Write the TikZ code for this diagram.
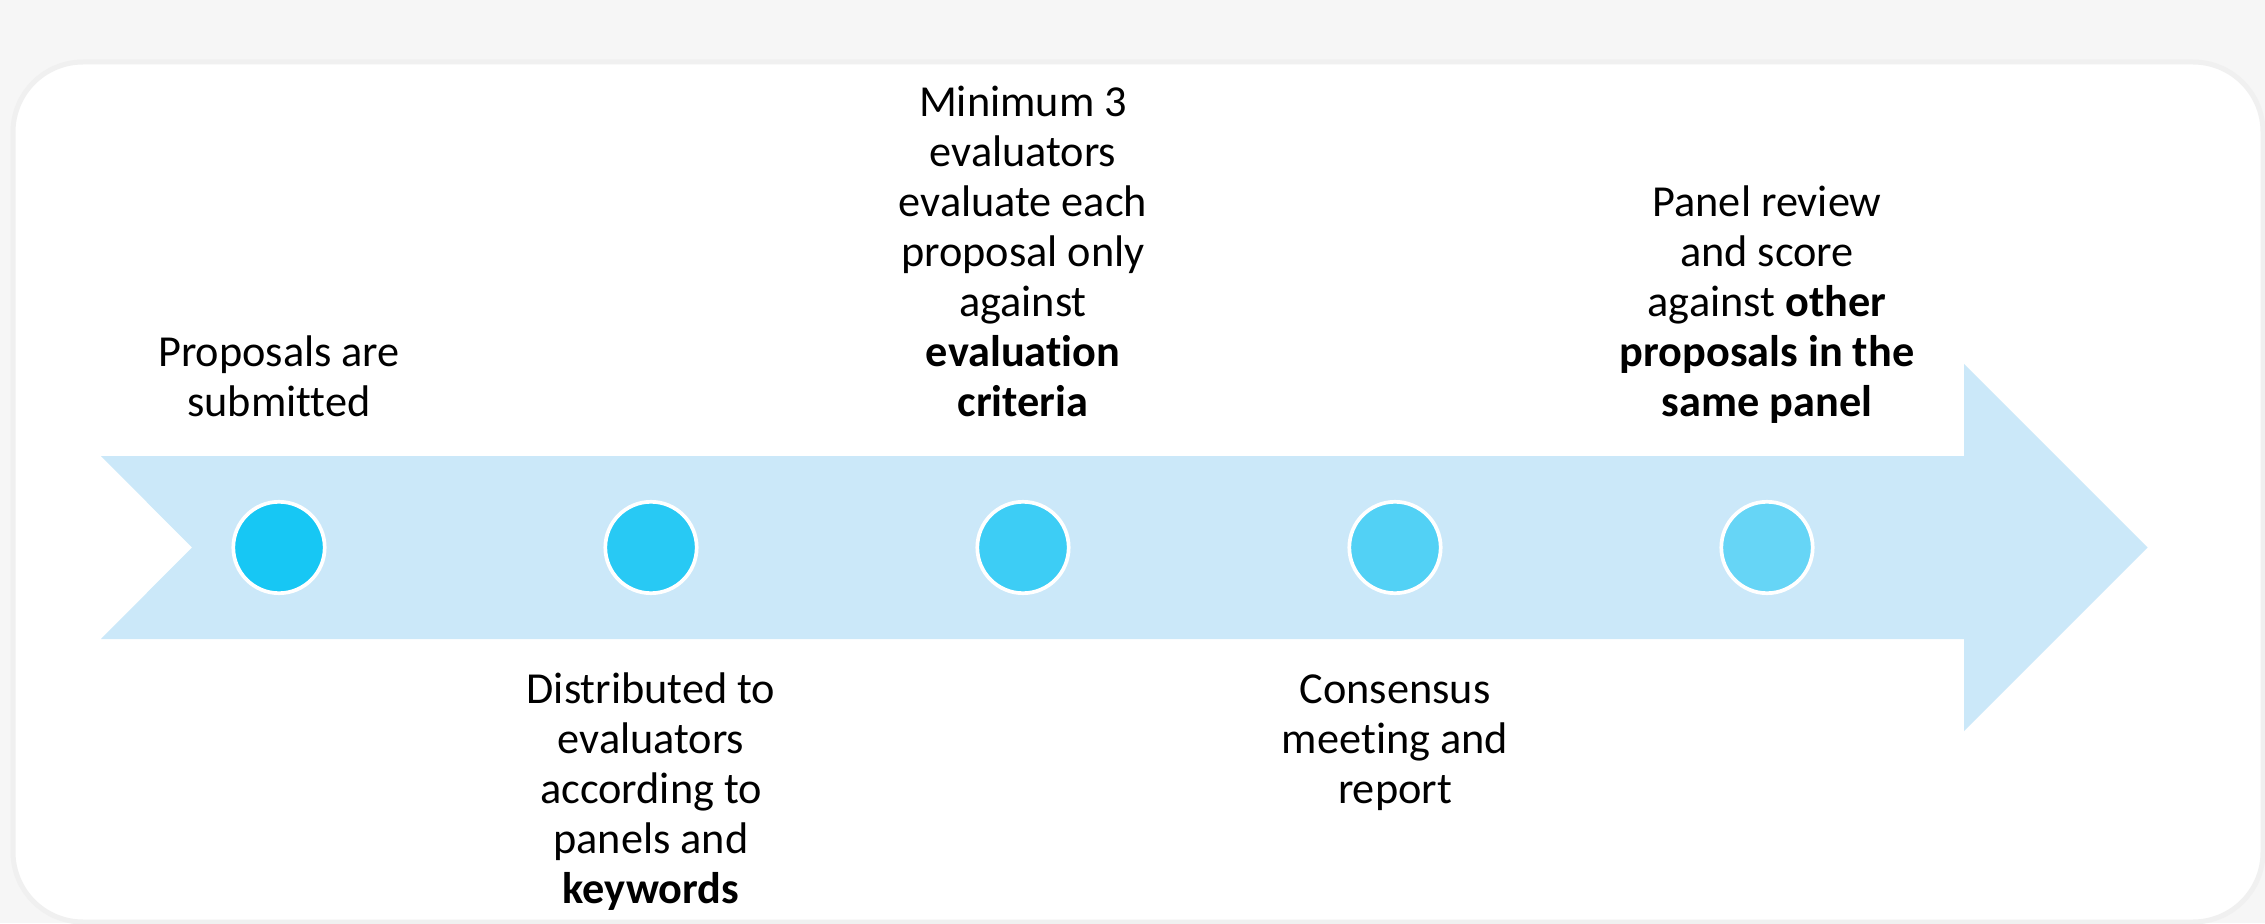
\documentclass[tikz,border=0pt]{standalone}
\usepackage{fontspec}
\setmainfont[RawFeature={-liga;-calt;-clig;-dlig}]{Carlito}
\usetikzlibrary{positioning}
\definecolor{bggray}{HTML}{F6F6F6}
\definecolor{arrowblue}{HTML}{CBE8F9}
\definecolor{dotA}{HTML}{17C7F4}
\definecolor{dotB}{HTML}{28C9F4}
\definecolor{dotC}{HTML}{3DCDF5}
\definecolor{dotD}{HTML}{52D1F5}
\definecolor{dotE}{HTML}{66D5F6}
\begin{document}
\begin{tikzpicture}[font=\fontsize{12.6}{14.2}\selectfont, line join=round, line cap=round,
	dot/.style={circle, draw=white, line width=0.037cm, minimum size=0.914cm, inner sep=0pt},
	uptxt/.style={align=center, inner sep=0pt},
	downtxt/.style={align=center, inner sep=0pt}]
		\useasboundingbox (0,0) rectangle (22.65,9.23);
		\fill[bggray] (0,0) rectangle (22.65,9.23);
		\filldraw[fill=white, draw=gray!12, line width=0.05cm, rounded corners=0.7cm] (0.13,0.01) rectangle (22.63,8.61);
		% timeline arrow
		\fill[arrowblue] (1.01,4.67)--(19.64,4.67)--(19.64,5.59)--(21.475,3.755)--(19.64,1.92)--(19.64,2.84)--(1.01,2.84)--(1.92,3.755)--cycle;
		\foreach \i/\x/\c in {1/2.79/dotA, 2/6.51/dotB, 3/10.23/dotC, 4/13.95/dotD, 5/17.67/dotE}
			\node[dot, fill=\c] (c\i) at (\x,3.755) {};
		% steps above
		\node[uptxt, above=1.155cm of c1.center] (t1) {Proposals are\\submitted\strut};
		\node[uptxt, above=1.155cm of c3.center] (t3) {Minimum 3\\evaluators\\evaluate each\\proposal only\\against\\\textbf{evaluation}\\\textbf{criteria}\strut};
		\node[uptxt, above=1.155cm of c5.center] (t5) {Panel review\\and score\\against \textbf{other}\\\textbf{proposals in the}\\\textbf{same panel}\strut};
		% steps below
		\node[downtxt, below=1.205cm of c2.center] (t2) {\strut Distributed to\\evaluators\\according to\\panels and\\\textbf{keywords}};
		\node[downtxt, below=1.205cm of c4.center] (t4) {\strut Consensus\\meeting and\\report};
\end{tikzpicture}
\end{document}
